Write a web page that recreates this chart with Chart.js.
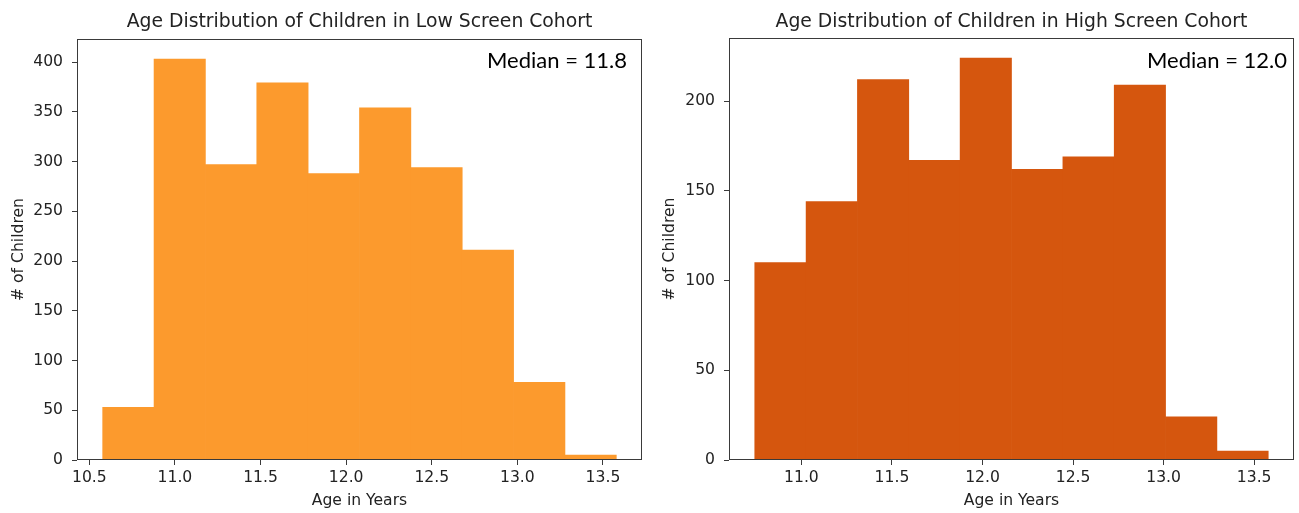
<!DOCTYPE html>
<html><head><meta charset="utf-8">
<script src="https://cdn.jsdelivr.net/npm/chart.js@4.4.1/dist/chart.umd.min.js"></script>
<style>
html,body{margin:0;padding:0;background:#fff;}
#wrap{position:relative;width:1299px;height:513px;overflow:hidden;}
canvas{position:absolute;top:0;}
#c1{left:0;} #c2{left:649px;}
</style></head>
<body><div id="wrap">
<canvas id="c1" width="649" height="513"></canvas>
<canvas id="c2" width="650" height="513"></canvas>
</div>
<script>
// ---- data ----
const lowBinEdges  = [10.578, 10.878, 11.178, 11.478, 11.778, 12.078, 12.378, 12.678, 12.978, 13.278, 13.578];
const lowCounts    = [53, 403, 297, 379, 288, 354, 294, 211, 78, 5];
const highBinEdges = [10.742, 11.026, 11.309, 11.593, 11.876, 12.160, 12.444, 12.727, 13.011, 13.294, 13.578];
const highCounts   = [110, 144, 212, 167, 224, 162, 169, 209, 24, 5];
const lowXTicks  = [10.5, 11.0, 11.5, 12.0, 12.5, 13.0, 13.5];
const highXTicks = [11.0, 11.5, 12.0, 12.5, 13.0, 13.5];
const lowYTicks  = [0, 50, 100, 150, 200, 250, 300, 350, 400];
const highYTicks = [0, 50, 100, 150, 200];
const lowTitle  = 'Age Distribution of Children in Low Screen Cohort';
const highTitle = 'Age Distribution of Children in High Screen Cohort';
const lowMedian  = 'Median = 11.8';
const highMedian = 'Median = 12.0';
const xLabel = 'Age in Years';
const yLabel = '# of Children';

const toPoints = (edges, counts) => counts.map((c, i) => ({x: (edges[i] + edges[i + 1]) / 2, y: c}));

const decorPlugin = {
  id: 'decor',
  afterDraw(chart, args, o) {
    const {ctx, chartArea: a} = chart;
    ctx.save();
    ctx.strokeStyle = '#3a3a3a';
    ctx.lineWidth = 1;
    const l = Math.round(a.left) + 0.5, t = Math.round(a.top) + 0.5;
    const r = Math.round(a.right) - 0.5, b = Math.round(a.bottom) - 0.5;
    ctx.strokeRect(l, t, r - l, b - t);
    ctx.fillStyle = '#222';
    ctx.font = '18.8px "DejaVu Sans"';
    ctx.textAlign = 'center';
    ctx.textBaseline = 'alphabetic';
    ctx.fillText(o.title, (a.left + a.right) / 2, o.titleY);
    ctx.fillStyle = '#000';
    ctx.font = o.medianFont;
    ctx.textAlign = 'right';
    ctx.fillText(o.median, o.medianRight, o.medianY);
    ctx.restore();
  }
};

function makeChart(id, cfg) {
  const axisFont = {family: 'DejaVu Sans', size: 15.6};
  return new Chart(document.getElementById(id), {
    type: 'bar',
    data: {datasets: [{
      data: toPoints(cfg.edges, cfg.counts),
      backgroundColor: cfg.color,
      borderWidth: 0,
      barPercentage: 1,
      categoryPercentage: 1,
      barThickness: 'flex'
    }]},
    plugins: [decorPlugin],
    options: {
      responsive: false,
      animation: false,
      layout: {padding: {left: 0, right: cfg.padRight, top: cfg.top, bottom: 0}},
      plugins: {
        legend: {display: false},
        tooltip: {enabled: false},
        title: {display: false},
        decor: cfg.decor
      },
      scales: {
        x: {
          type: 'linear',
          offset: false,
          min: cfg.xMin, max: cfg.xMax,
          afterBuildTicks: s => { s.ticks = cfg.xTicks.map(v => ({value: v})); },
          afterFit: s => { s.height = 513 - 460; },
          grid: {display: true, offset: false, drawOnChartArea: false, drawTicks: true, tickLength: 5, color: '#3a3a3a'},
          border: {display: false},
          ticks: {padding: 4, color: '#222', font: axisFont, maxRotation: 0, autoSkip: false,
                  callback: v => Number(v).toFixed(1)},
          title: {display: true, text: xLabel, color: '#222', font: axisFont, padding: {top: 0, bottom: 3}}
        },
        y: {
          min: 0, max: cfg.yMax,
          afterBuildTicks: s => { s.ticks = cfg.yTicks.map(v => ({value: v})); },
          afterFit: s => { s.width = cfg.yWidth; },
          grid: {display: true, drawOnChartArea: false, drawTicks: true, tickLength: 5, color: '#3a3a3a'},
          border: {display: false},
          ticks: {padding: 9, color: '#222', font: axisFont, autoSkip: false},
          title: {display: true, text: yLabel, color: '#222', font: axisFont, padding: {top: cfg.yTitlePad, bottom: 0}}
        }
      }
    }
  });
}

makeChart('c1', {
  edges: lowBinEdges, counts: lowCounts, color: '#fc9a2d',
  xMin: 10.428, xMax: 13.728, xTicks: lowXTicks,
  yMax: 423.15, yTicks: lowYTicks,
  padRight: 7, top: 39, yWidth: 77, yTitlePad: 10,
  decor: {title: lowTitle, titleY: 27, median: lowMedian, medianFont: '22px Lato', medianRight: 627, medianY: 68}
});
makeChart('c2', {
  edges: highBinEdges, counts: highCounts, color: '#d5560e',
  xMin: 10.600, xMax: 13.720, xTicks: highXTicks,
  yMax: 235.2, yTicks: highYTicks,
  padRight: 5, top: 38, yWidth: 80, yTitlePad: 12,
  decor: {title: highTitle, titleY: 27, median: highMedian, medianFont: '22px Lato', medianRight: 638, medianY: 68}
});
</script>
</body></html>
